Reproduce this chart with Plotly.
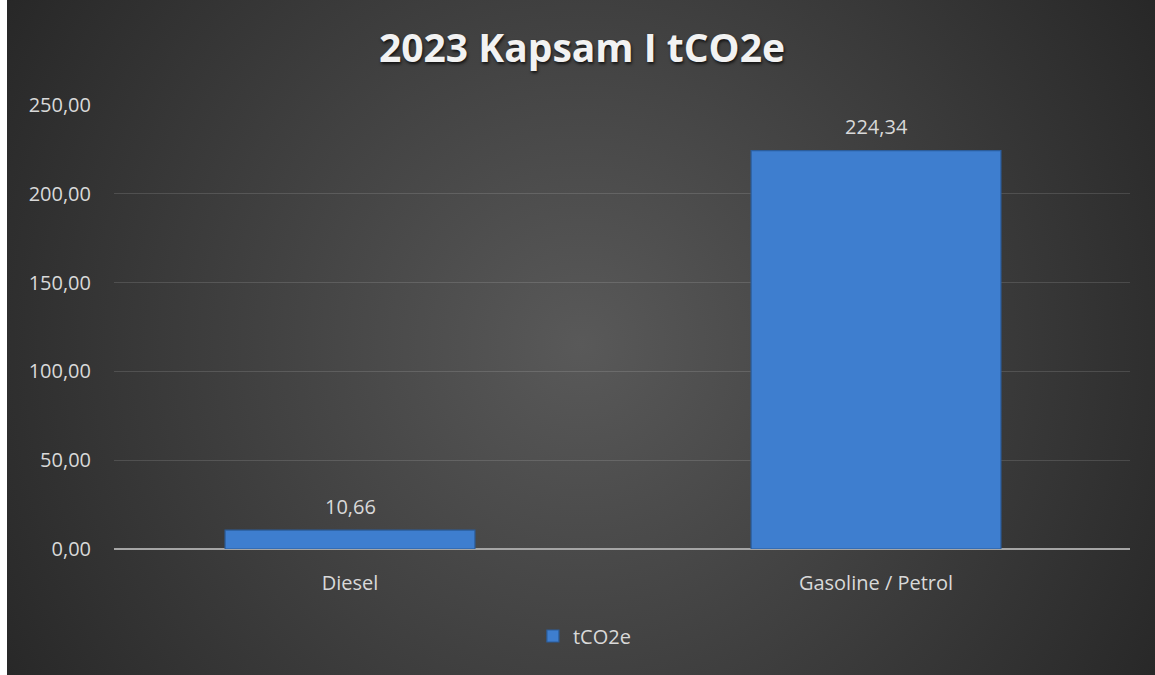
import plotly.graph_objects as go

categories = ['Diesel', 'Gasoline / Petrol']
values = [10.66, 224.34]
series_name = 'tCO2e'
title_text = '2023 Kapsam I tCO2e'

W, H = 1155, 675
L, R, T, B = 114, 25, 105, 126
plot_w = W - L - R
plot_h = H - T - B

# radial background as an inline svg
bg_svg = (
    "<svg xmlns='http://www.w3.org/2000/svg' width='1148' height='675' "
    "viewBox='0 0 1148 675' preserveAspectRatio='none'>"
    "<defs><radialGradient id='g' gradientUnits='userSpaceOnUse' cx='574' cy='345' r='690'>"
    "<stop offset='0' stop-color='#595959'/><stop offset='1' stop-color='#262626'/>"
    "</radialGradient></defs><rect width='1148' height='675' fill='url(#g)'/></svg>"
)
bg_src = 'data:image/svg+xml;utf8,' + bg_svg.replace('#', '%23').replace('<', '%3C').replace('>', '%3E')

text_col = '#d9d9d9'
font_family = 'Open Sans, Noto Sans, sans-serif'

fig = go.Figure()
fig.add_trace(go.Bar(
    x=[0, 1],
    y=values,
    width=0.475,
    name=series_name,
    marker=dict(color='#3e7ecf', line=dict(color='#2b5d9c', width=1.2)),
    showlegend=True,
))

# value labels, sitting a bit higher above the bars than plotly's own
for i, v in enumerate(values):
    fig.add_annotation(
        x=i, y=v, text=f'{v:.2f}'.replace('.', ','),
        showarrow=False, yanchor='middle', yshift=24,
        font=dict(size=20, color=text_col, family=font_family),
    )

fig.update_layout(
    width=W, height=H,
    autosize=False,
    margin=dict(l=L, r=R, t=T, b=B),
    paper_bgcolor='white',
    plot_bgcolor='rgba(0,0,0,0)',
    separators=',.',
    font=dict(family=font_family, color=text_col, size=20),
    title=dict(
        text='<b>' + title_text + '</b>',
        x=582 / W, xanchor='center',
        y=1 - 48 / H, yanchor='middle',
        font=dict(size=39, color='#f2f2f2', family=font_family,
                  shadow='1px 2px 3px rgba(0,0,0,0.7)'),
    ),
    xaxis=dict(
        range=[-236 / 526, 1 + 254 / 526],
        tickmode='array', tickvals=[0, 1], ticktext=categories,
        showgrid=False, zeroline=False, showline=False,
        ticks='', ticklabelstandoff=20,
        tickfont=dict(size=20, color=text_col),
        fixedrange=True,
    ),
    yaxis=dict(
        range=[0, 250],
        dtick=50, tickformat='.2f',
        showgrid=True, gridcolor='rgba(255,255,255,0.13)', gridwidth=1,
        zeroline=True, zerolinecolor='#a5a5a5', zerolinewidth=2,
        ticks='', ticklabelstandoff=22,
        tickfont=dict(size=20, color=text_col),
        fixedrange=True,
    ),
    legend=dict(
        orientation='h', x=0.463, xanchor='center',
        y=-(636 - (T + plot_h)) / plot_h, yanchor='middle',
        font=dict(size=20, color=text_col),
        bgcolor='rgba(0,0,0,0)',
        itemwidth=30,
    ),
    images=[dict(
        source=bg_src,
        xref='paper', yref='paper',
        x=(7 - L) / plot_w, y=1 + T / plot_h,
        sizex=(W - 7) / plot_w, sizey=H / plot_h,
        xanchor='left', yanchor='top',
        sizing='stretch', layer='below',
    )],
)

fig.write_html("out.html", config=dict(displayModeBar=False),
               post_script="document.body.style.margin='0';")
